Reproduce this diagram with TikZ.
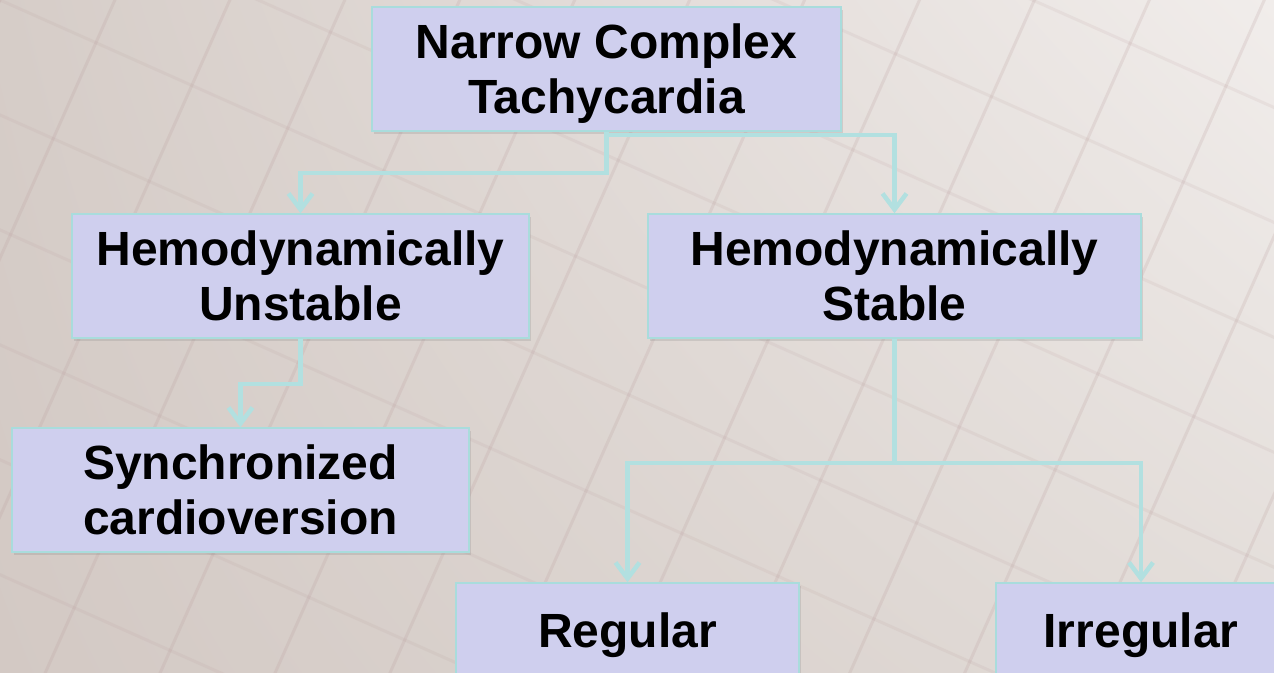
\documentclass[tikz,border=0pt]{standalone}
\usepackage{fontspec}
\setmainfont{Liberation Sans}
\usetikzlibrary{arrows.meta,shadows,shadings}
\definecolor{boxfill}{HTML}{CFCFEE}
\definecolor{boxline}{HTML}{A9DCDC}
\definecolor{conncol}{HTML}{B2E0E0}
\definecolor{bgTL}{HTML}{D6CDC8}
\definecolor{bgTR}{HTML}{F1EDEB}
\definecolor{bgBL}{HTML}{D3C9C4}
\definecolor{bgBR}{HTML}{E2DCD8}
\definecolor{gridc}{HTML}{B89A9A}
\newcommand{\mytwoline}[2]{\raisebox{0pt}[89.4pt][0pt]{\begin{tabular}[b]{@{}c@{}}#1\\#2\end{tabular}}}
\newcommand{\myoneline}[1]{\raisebox{0pt}[34.4pt][0pt]{#1}}
\begin{document}
\begin{tikzpicture}[x=1pt,y=-1pt,
  box/.style={draw=boxline, line width=1.5pt, fill=boxfill, inner sep=0pt,
    font=\bfseries\fontsize{48}{55}\selectfont,
    drop shadow={shadow xshift=2pt, shadow yshift=-3pt, opacity=0.22}},
  conn/.style={draw=conncol, line width=4.5pt,
    -{Straight Barb[length=16pt,width=24pt,line width=4.5pt]}},
  gridline/.style={draw=gridc, line width=3pt, opacity=0.2}]
\useasboundingbox (0,0) rectangle (1274,672);
% background
\shade[upper left=bgTL, upper right=bgTR, lower left=bgBL, lower right=bgBR]
  (0,0) rectangle (1274,672);
\begin{scope}
  \clip (0,0) rectangle (1274,672);
  \begin{scope}[rotate=-24]
    \foreach \k in {-12,...,20} {\draw[gridline] (\k*105,-900) -- (\k*105,1800);}
  \end{scope}
  \begin{scope}[rotate=-24]
    \foreach \k in {-12,...,20} {\draw[gridline, opacity=0.13] (-900,\k*105) -- (2200,\k*105);}
  \end{scope}
\end{scope}
% boxes
\node[box, minimum width=469pt, minimum height=124pt] (top) at (606.5,69)
  {\mytwoline{Narrow Complex}{Tachycardia}};
\node[box, minimum width=457pt, minimum height=124pt] (uns) at (300.5,276)
  {\mytwoline{Hemodynamically}{Unstable}};
\node[box, minimum width=493pt, minimum height=124pt] (sta) at (894.5,276)
  {\mytwoline{Hemodynamically}{Stable}};
\node[box, minimum width=457pt, minimum height=124pt] (syn) at (240.5,490)
  {\mytwoline{Synchronized}{cardioversion}};
\node[box, minimum width=343pt, minimum height=94pt] (reg) at (627.5,630)
  {\myoneline{Regular}};
\node[box, minimum width=290pt, minimum height=94pt] (irr) at (1141,630)
  {\myoneline{Irregular}};
% connectors
\draw[conn] (top.south) -- ++(0,41) -| (uns.north);
\draw[conn] (top.south) -- ++(0,3) -| (sta.north);
\draw[conn] (uns.south) -- ++(0,45) -| (syn.north);
\draw[conn] (sta.south) -- ++(0,124) -| (reg.north);
\draw[conn] (sta.south) -- ++(0,124) -| (irr.north);
\end{tikzpicture}
\end{document}
